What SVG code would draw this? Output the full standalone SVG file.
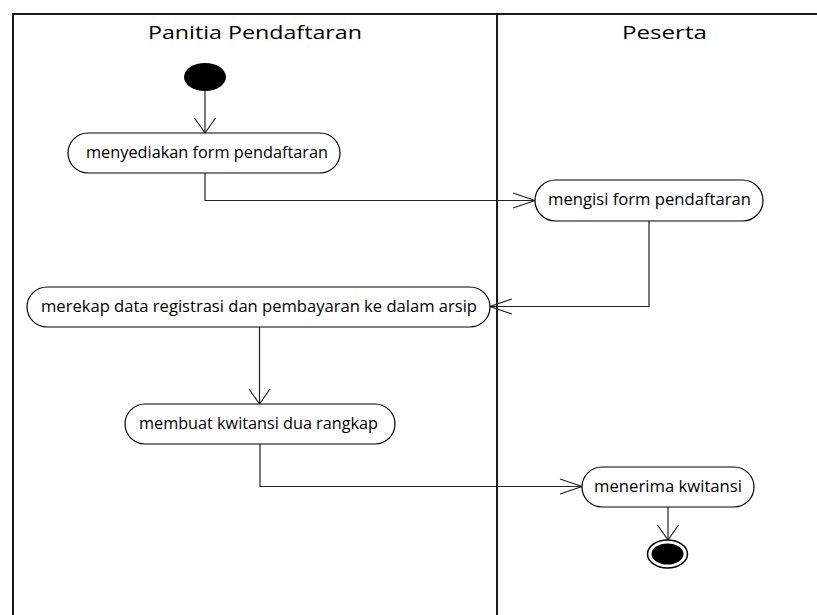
<svg xmlns="http://www.w3.org/2000/svg" width="817" height="615" viewBox="0 0 817 615">
<style>
.lane{stroke:#1a1a1a;stroke-width:2;fill:none}
.act{fill:#fff;stroke:#000;stroke-width:1.2}
.lbl{font-family:"Open Sans","Noto Sans",sans-serif;font-size:15.5px;fill:#000}
.ttl{font-family:"Open Sans","Noto Sans",sans-serif;font-size:18.5px;fill:#000}
.con{fill:none;stroke:#222;stroke-width:1.2}
</style>
<defs>
<marker id="arrV" markerUnits="userSpaceOnUse" viewBox="-16 -12 18 24" refX="0" refY="0" markerWidth="18" markerHeight="24" orient="auto">
<path d="M-15,-10.5 L0,0 L-15,10.5" fill="none" stroke="#222" stroke-width="1.2"/>
</marker>
<marker id="arrH" markerUnits="userSpaceOnUse" viewBox="-23 -9 25 18" refX="0" refY="0" markerWidth="25" markerHeight="18" orient="auto">
<path d="M-22,-7.5 L0,0 L-22,7.5" fill="none" stroke="#222" stroke-width="1.2"/>
</marker>
</defs>
<rect width="817" height="615" fill="#fff"/>
<g id="swimlanes">
<line class="lane" x1="12" y1="14" x2="817" y2="14" stroke-width="1.5"/>
<line class="lane" x1="13" y1="13" x2="13" y2="615"/>
<line class="lane" x1="497" y1="13" x2="497" y2="615"/>
<text class="ttl" x="148" y="39" textLength="214" lengthAdjust="spacingAndGlyphs">Panitia Pendaftaran</text>
<text class="ttl" x="622" y="39" textLength="85" lengthAdjust="spacingAndGlyphs">Peserta</text>
</g>
<g id="connectors">
<line class="con" x1="205" y1="91" x2="205" y2="133" marker-end="url(#arrV)"/>
<polyline class="con" points="205,173 205,200.5 535,200.5" marker-end="url(#arrH)"/>
<polyline class="con" points="649,221 649,306.5 490,306.5" marker-end="url(#arrH)"/>
<line class="con" x1="259.5" y1="327" x2="259.5" y2="404" marker-end="url(#arrV)"/>
<polyline class="con" points="260,444 260,486.5 582,486.5" marker-end="url(#arrH)"/>
<line class="con" x1="668" y1="507" x2="668" y2="540" marker-end="url(#arrV)"/>
</g>
<g id="start">
<ellipse cx="205" cy="77" rx="21" ry="14" fill="#000"/>
</g>
<g id="act1">
<rect class="act" x="68" y="133" width="272" height="40" rx="20" ry="20"/>
<text class="lbl" x="86" y="158" textLength="242" lengthAdjust="spacingAndGlyphs">menyediakan form pendaftaran</text>
</g>
<g id="act2">
<rect class="act" x="535" y="180" width="228" height="41" rx="20.5" ry="20.5"/>
<text class="lbl" x="548" y="205" textLength="203" lengthAdjust="spacingAndGlyphs">mengisi form pendaftaran</text>
</g>
<g id="act3">
<rect class="act" x="27" y="287" width="463" height="40" rx="20" ry="20"/>
<text class="lbl" x="41" y="312" textLength="436" lengthAdjust="spacingAndGlyphs">merekap data registrasi dan pembayaran ke dalam arsip</text>
</g>
<g id="act4">
<rect class="act" x="125" y="404" width="270" height="40" rx="20" ry="20"/>
<text class="lbl" x="139" y="429" textLength="239" lengthAdjust="spacingAndGlyphs">membuat kwitansi dua rangkap</text>
</g>
<g id="act5">
<rect class="act" x="582" y="467" width="172" height="40" rx="20" ry="20"/>
<text class="lbl" x="594" y="492" textLength="148" lengthAdjust="spacingAndGlyphs">menerima kwitansi</text>
</g>
<g id="end">
<ellipse cx="667.5" cy="554" rx="20" ry="14" fill="#fff" stroke="#000" stroke-width="1.5"/>
<ellipse cx="667.5" cy="554" rx="16" ry="10.5" fill="#000"/>
</g>
</svg>
